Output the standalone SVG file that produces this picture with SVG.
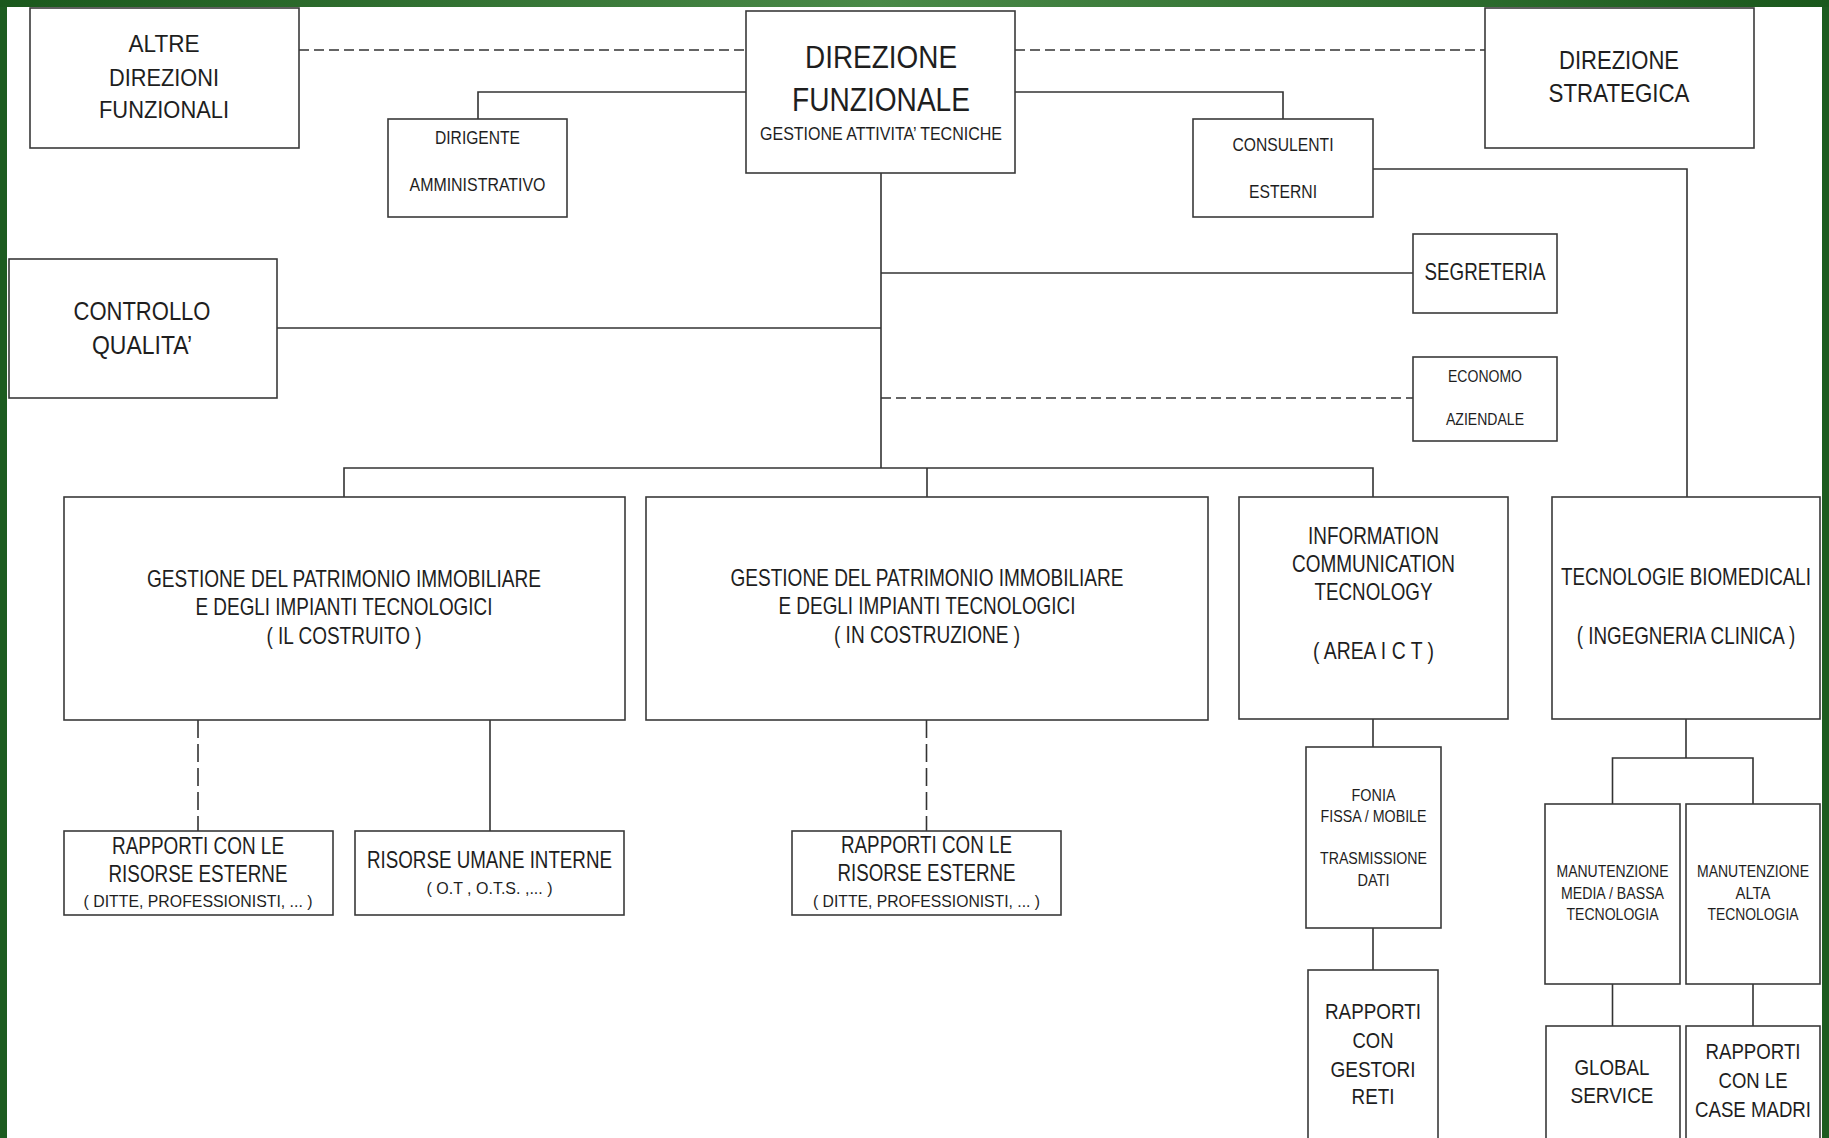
<svg xmlns="http://www.w3.org/2000/svg" width="1829" height="1138" viewBox="0 0 1829 1138">
  <defs>
    <linearGradient id="topBand" x1="0" y1="0" x2="1" y2="0">
      <stop offset="0" stop-color="#1a581c"/>
      <stop offset="0.48" stop-color="#4a8a48"/>
      <stop offset="1" stop-color="#1a581c"/>
    </linearGradient>
    <style>
      .box { fill: #ffffff; stroke: #3a3a3a; stroke-width: 1.6; }
      .ln { fill: none; stroke: #333333; stroke-width: 1.6; }
      .dh { stroke-dasharray: 10 5; }
      .dv { stroke-dasharray: 18 6; }
      text { font-family: "Liberation Sans", Arial, sans-serif; fill: #1e1e1e; text-anchor: middle; }
    </style>
  </defs>

  <!-- page background and green frame -->
  <rect x="0" y="0" width="1829" height="1138" fill="#ffffff"/>
  <rect x="0" y="0" width="7" height="1138" fill="#1d5c20"/>
  <rect x="1822" y="0" width="7" height="1138" fill="#1d5c20"/>
  <rect x="0" y="0" width="1829" height="7" fill="url(#topBand)"/>

  <!-- connectors -->
  <g id="connectors">
    <path class="ln dh" d="M299 50 H746"/>
    <path class="ln dh" d="M1015 50 H1485"/>
    <path class="ln" d="M746 92 H478 V119"/>
    <path class="ln" d="M1015 92 H1283 V119"/>
    <path class="ln" d="M881 173 V468"/>
    <path class="ln" d="M277 328 H881"/>
    <path class="ln" d="M881 273 H1413"/>
    <path class="ln dh" d="M881 398 H1413"/>
    <path class="ln" d="M1373 169 H1687 V497"/>
    <path class="ln" d="M344 497 V468 H1373 V497"/>
    <path class="ln" d="M927 468 V497"/>
    <path class="ln dv" d="M198 720 V831"/>
    <path class="ln" d="M490 720 V831"/>
    <path class="ln dv" d="M926.5 720 V831"/>
    <path class="ln" d="M1373 719 V747"/>
    <path class="ln" d="M1373 928 V970"/>
    <path class="ln" d="M1686 719 V758"/>
    <path class="ln" d="M1612.5 804 V758 H1753 V804"/>
    <path class="ln" d="M1612.5 984 V1026"/>
    <path class="ln" d="M1753 984 V1026"/>
  </g>

  <g id="altre-direzioni">
    <rect class="box" x="30" y="8" width="269" height="140"/>
    <text x="164" y="52" font-size="24" textLength="71" lengthAdjust="spacingAndGlyphs">ALTRE</text>
    <text x="164" y="86" font-size="24" textLength="110" lengthAdjust="spacingAndGlyphs">DIREZIONI</text>
    <text x="164" y="118" font-size="24" textLength="130" lengthAdjust="spacingAndGlyphs">FUNZIONALI</text>
  </g>

  <g id="direzione-funzionale">
    <rect class="box" x="746" y="11" width="269" height="162"/>
    <text x="881" y="68" font-size="32" textLength="152" lengthAdjust="spacingAndGlyphs">DIREZIONE</text>
    <text x="881" y="111" font-size="33" textLength="178" lengthAdjust="spacingAndGlyphs">FUNZIONALE</text>
    <text x="881" y="140" font-size="18" textLength="242" lengthAdjust="spacingAndGlyphs">GESTIONE ATTIVITA’ TECNICHE</text>
  </g>

  <g id="direzione-strategica">
    <rect class="box" x="1485" y="8" width="269" height="140"/>
    <text x="1619" y="69" font-size="26" textLength="120" lengthAdjust="spacingAndGlyphs">DIREZIONE</text>
    <text x="1619" y="102" font-size="26" textLength="141" lengthAdjust="spacingAndGlyphs">STRATEGICA</text>
  </g>

  <g id="dirigente-amministrativo">
    <rect class="box" x="388" y="119" width="179" height="98"/>
    <text x="477.5" y="144" font-size="18" textLength="85" lengthAdjust="spacingAndGlyphs">DIRIGENTE</text>
    <text x="477.5" y="191" font-size="18" textLength="136" lengthAdjust="spacingAndGlyphs">AMMINISTRATIVO</text>
  </g>

  <g id="consulenti-esterni">
    <rect class="box" x="1193" y="119" width="180" height="98"/>
    <text x="1283" y="151" font-size="18" textLength="101" lengthAdjust="spacingAndGlyphs">CONSULENTI</text>
    <text x="1283" y="198" font-size="18" textLength="68" lengthAdjust="spacingAndGlyphs">ESTERNI</text>
  </g>

  <g id="controllo-qualita">
    <rect class="box" x="9" y="259" width="268" height="139"/>
    <text x="142" y="320" font-size="25" textLength="137" lengthAdjust="spacingAndGlyphs">CONTROLLO</text>
    <text x="142" y="354" font-size="25" textLength="100" lengthAdjust="spacingAndGlyphs">QUALITA’</text>
  </g>

  <g id="segreteria">
    <rect class="box" x="1413" y="234" width="144" height="79"/>
    <text x="1485" y="280" font-size="24" textLength="121" lengthAdjust="spacingAndGlyphs">SEGRETERIA</text>
  </g>

  <g id="economo-aziendale">
    <rect class="box" x="1413" y="357" width="144" height="84"/>
    <text x="1485" y="382" font-size="16" textLength="74" lengthAdjust="spacingAndGlyphs">ECONOMO</text>
    <text x="1485" y="425" font-size="16" textLength="78" lengthAdjust="spacingAndGlyphs">AZIENDALE</text>
  </g>

  <g id="patrimonio-costruito">
    <rect class="box" x="64" y="497" width="561" height="223"/>
    <text x="344" y="587" font-size="24" textLength="394" lengthAdjust="spacingAndGlyphs">GESTIONE DEL PATRIMONIO IMMOBILIARE</text>
    <text x="344" y="615" font-size="24" textLength="297" lengthAdjust="spacingAndGlyphs">E DEGLI IMPIANTI TECNOLOGICI</text>
    <text x="344" y="644" font-size="24" textLength="155" lengthAdjust="spacingAndGlyphs">( IL COSTRUITO )</text>
  </g>

  <g id="patrimonio-in-costruzione">
    <rect class="box" x="646" y="497" width="562" height="223"/>
    <text x="927" y="586" font-size="24" textLength="393" lengthAdjust="spacingAndGlyphs">GESTIONE DEL PATRIMONIO IMMOBILIARE</text>
    <text x="927" y="614" font-size="24" textLength="297" lengthAdjust="spacingAndGlyphs">E DEGLI IMPIANTI TECNOLOGICI</text>
    <text x="927" y="643" font-size="24" textLength="186" lengthAdjust="spacingAndGlyphs">( IN COSTRUZIONE )</text>
  </g>

  <g id="area-ict">
    <rect class="box" x="1239" y="497" width="269" height="222"/>
    <text x="1373.5" y="544" font-size="24" textLength="131" lengthAdjust="spacingAndGlyphs">INFORMATION</text>
    <text x="1373.5" y="572" font-size="24" textLength="163" lengthAdjust="spacingAndGlyphs">COMMUNICATION</text>
    <text x="1373.5" y="600" font-size="24" textLength="118" lengthAdjust="spacingAndGlyphs">TECNOLOGY</text>
    <text x="1373.5" y="659" font-size="24" textLength="121" lengthAdjust="spacingAndGlyphs">( AREA I C T )</text>
  </g>

  <g id="tecnologie-biomedicali">
    <rect class="box" x="1552" y="497" width="268" height="222"/>
    <text transform="translate(1686 585) scale(0.785 1)" x="0" y="0" font-size="24">TECNOLOGIE BIOMEDICALI</text>
    <text transform="translate(1686 644) scale(0.785 1)" x="0" y="0" font-size="24">( INGEGNERIA CLINICA )</text>
  </g>

  <g id="risorse-esterne-costruito">
    <rect class="box" x="64" y="831" width="269" height="84"/>
    <text x="198" y="854" font-size="23" textLength="172" lengthAdjust="spacingAndGlyphs">RAPPORTI CON LE</text>
    <text x="198" y="882" font-size="23" textLength="179" lengthAdjust="spacingAndGlyphs">RISORSE ESTERNE</text>
    <text x="198" y="907" font-size="17" textLength="229" lengthAdjust="spacingAndGlyphs">( DITTE, PROFESSIONISTI, ... )</text>
  </g>

  <g id="risorse-umane-interne">
    <rect class="box" x="355" y="831" width="269" height="84"/>
    <text x="489.5" y="868" font-size="23" textLength="245" lengthAdjust="spacingAndGlyphs">RISORSE UMANE INTERNE</text>
    <text x="489.5" y="894" font-size="17" textLength="126" lengthAdjust="spacingAndGlyphs">( O.T , O.T.S. ,... )</text>
  </g>

  <g id="risorse-esterne-costruzione">
    <rect class="box" x="792" y="831" width="269" height="84"/>
    <text x="926.5" y="853" font-size="23" textLength="171" lengthAdjust="spacingAndGlyphs">RAPPORTI CON LE</text>
    <text x="926.5" y="881" font-size="23" textLength="178" lengthAdjust="spacingAndGlyphs">RISORSE ESTERNE</text>
    <text x="926.5" y="907" font-size="17" textLength="227" lengthAdjust="spacingAndGlyphs">( DITTE, PROFESSIONISTI, ... )</text>
  </g>

  <g id="fonia-dati">
    <rect class="box" x="1306" y="747" width="135" height="181"/>
    <text x="1373.5" y="801" font-size="16" textLength="44" lengthAdjust="spacingAndGlyphs">FONIA</text>
    <text x="1373.5" y="822" font-size="16" textLength="106" lengthAdjust="spacingAndGlyphs">FISSA / MOBILE</text>
    <text x="1373.5" y="864" font-size="16" textLength="107" lengthAdjust="spacingAndGlyphs">TRASMISSIONE</text>
    <text x="1373.5" y="886" font-size="16" textLength="32" lengthAdjust="spacingAndGlyphs">DATI</text>
  </g>

  <g id="gestori-reti">
    <rect class="box" x="1308" y="970" width="130" height="175"/>
    <text x="1373" y="1019" font-size="22" textLength="96" lengthAdjust="spacingAndGlyphs">RAPPORTI</text>
    <text x="1373" y="1048" font-size="22" textLength="41" lengthAdjust="spacingAndGlyphs">CON</text>
    <text x="1373" y="1077" font-size="22" textLength="85" lengthAdjust="spacingAndGlyphs">GESTORI</text>
    <text x="1373" y="1104" font-size="22" textLength="43" lengthAdjust="spacingAndGlyphs">RETI</text>
  </g>

  <g id="manutenzione-media-bassa">
    <rect class="box" x="1545" y="804" width="135" height="180"/>
    <text x="1612.5" y="877" font-size="16" textLength="112" lengthAdjust="spacingAndGlyphs">MANUTENZIONE</text>
    <text x="1612.5" y="899" font-size="16" textLength="103" lengthAdjust="spacingAndGlyphs">MEDIA / BASSA</text>
    <text x="1612.5" y="920" font-size="16" textLength="92" lengthAdjust="spacingAndGlyphs">TECNOLOGIA</text>
  </g>

  <g id="manutenzione-alta">
    <rect class="box" x="1686" y="804" width="134" height="180"/>
    <text x="1753" y="877" font-size="16" textLength="112" lengthAdjust="spacingAndGlyphs">MANUTENZIONE</text>
    <text x="1753" y="899" font-size="16" textLength="35" lengthAdjust="spacingAndGlyphs">ALTA</text>
    <text x="1753" y="920" font-size="16" textLength="91" lengthAdjust="spacingAndGlyphs">TECNOLOGIA</text>
  </g>

  <g id="global-service">
    <rect class="box" x="1546" y="1026" width="134" height="120"/>
    <text x="1612" y="1075" font-size="22" textLength="75" lengthAdjust="spacingAndGlyphs">GLOBAL</text>
    <text x="1612" y="1103" font-size="22" textLength="83" lengthAdjust="spacingAndGlyphs">SERVICE</text>
  </g>

  <g id="case-madri">
    <rect class="box" x="1686" y="1026" width="134" height="120"/>
    <text x="1753" y="1059" font-size="22" textLength="95" lengthAdjust="spacingAndGlyphs">RAPPORTI</text>
    <text x="1753" y="1088" font-size="22" textLength="69" lengthAdjust="spacingAndGlyphs">CON LE</text>
    <text x="1753" y="1117" font-size="22" textLength="116" lengthAdjust="spacingAndGlyphs">CASE MADRI</text>
  </g>
</svg>
